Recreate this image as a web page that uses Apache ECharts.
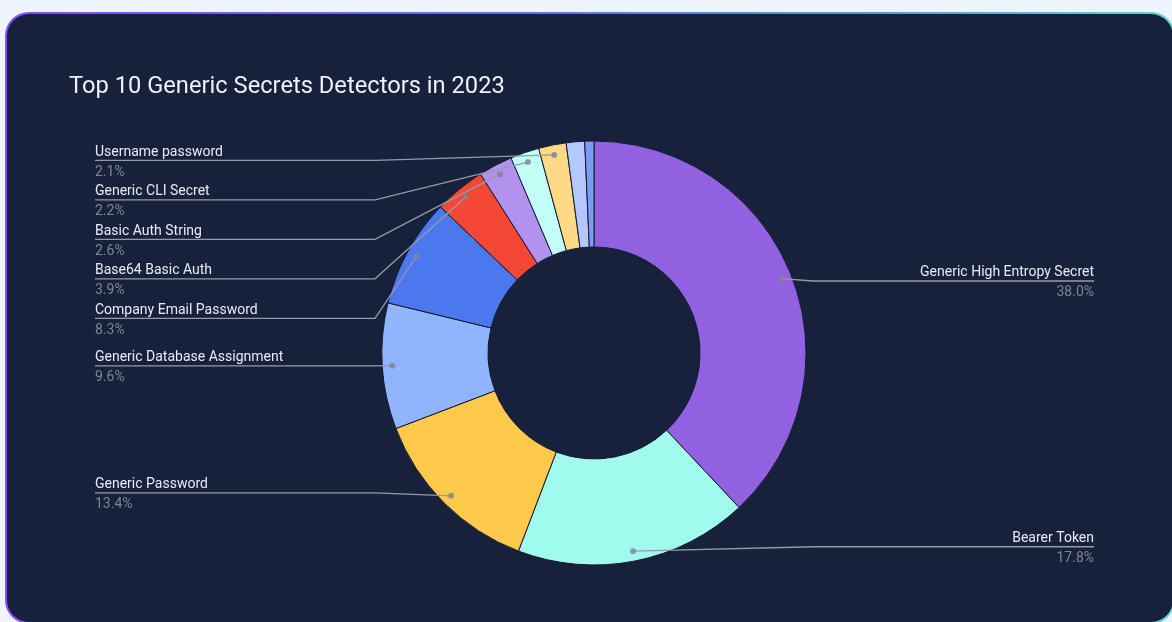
<!DOCTYPE html>
<html>
<head>
<meta charset="utf-8">
<title>Top 10 Generic Secrets Detectors in 2023</title>
<script src="https://cdn.jsdelivr.net/npm/echarts@6/dist/echarts.min.js"></script>
<style>
  html, body { margin: 0; padding: 0; width: 1172px; height: 622px; overflow: hidden; background: #eef5fe; }
  #card {
    position: absolute; left: 5px; top: 12px; width: 1166px; height: 608px;
    border: 2px solid transparent; border-radius: 24px;
    background: linear-gradient(#17213b, #17213b) padding-box,
                linear-gradient(90deg, #8a4cff 0%, #5a78ee 45%, #4f9fdc 75%, #5ed8d0 100%) border-box;
  }
  #chart { position: absolute; left: 0; top: 0; width: 1189px; height: 622px; }
</style>
</head>
<body>
<div id="card"></div>
<div id="chart"></div>
<script>
// Detector names and their share of all generic-secret findings (percent)
const categories = [
  'Generic High Entropy Secret',
  'Bearer Token',
  'Generic Password',
  'Generic Database Assignment',
  'Company Email Password',
  'Base64 Basic Auth',
  'Basic Auth String',
  'Generic CLI Secret',
  'Username password',
  'Generic API Key',
  'Other'
];
const shares = [38.0, 17.8, 13.4, 9.6, 8.3, 3.9, 2.6, 2.2, 2.1, 1.4, 0.7];
const sliceColors = [
  '#9261e1', '#a0fbee', '#ffc94b', '#91b4fe', '#4b78ee', '#f44735',
  '#b391ef', '#c2fff6', '#ffd986', '#b4c8fb', '#7b9bf2'
];
const labelTitle = 'Top 10 Generic Secrets Detectors in 2023';

// Slices below this share get no label
const LABEL_MIN = 2.0;

// Pie geometry (pixels)
const CX = 594, CY = 353, R_OUT = 212, R_IN = 106;
const DOT_R = 202;      // radius where the leader lines start
const BEND = 219;       // horizontal distance from centre where lines turn flat
const LABEL_DY = 3;     // small downward nudge of every label block

const total = shares.reduce((a, b) => a + b, 0);

// Mid-point of each labelled slice on the angular scale, for the leader dots
const dotData = [];
let acc = 0;
shares.forEach((v, i) => {
  if (v >= LABEL_MIN) dotData.push([DOT_R / R_OUT, acc + v / 2]);
  acc += v;
});

const pieBase = {
  type: 'pie',
  center: [CX, CY],
  radius: [R_IN, R_OUT],
  startAngle: 90,
  clockwise: true,
  silent: true,
  emphasis: { disabled: true }
};

const chart = echarts.init(document.getElementById('chart'), null, { renderer: 'canvas' });

chart.setOption({
  backgroundColor: 'transparent',
  animation: false,
  textStyle: { fontFamily: 'Roboto' },
  title: {
    text: labelTitle,
    left: 69, top: 75, padding: 0,
    textStyle: { color: '#eef1f7', fontSize: 23.7, fontWeight: 'normal', fontFamily: 'Roboto' }
  },
  polar: { center: [CX, CY], radius: R_OUT },
  angleAxis: { type: 'value', min: 0, max: total, startAngle: 90, clockwise: true, show: false },
  radiusAxis: { type: 'value', min: 0, max: 1, show: false },
  series: [
    // coloured donut slices
    Object.assign({}, pieBase, {
      z: 2,
      itemStyle: { borderColor: '#141b2e', borderWidth: 1 },
      label: { show: false },
      labelLine: { show: false },
      data: categories.map((name, i) => ({
        name: name,
        value: shares[i],
        itemStyle: { color: sliceColors[i] }
      }))
    }),
    // transparent twin that carries labels and leader lines above the slices
    Object.assign({}, pieBase, {
      z: 3,
      avoidLabelOverlap: true,
      itemStyle: { color: 'rgba(0,0,0,0)', borderWidth: 0 },
      label: {
        position: 'outer',
        alignTo: 'edge',
        edgeDistance: 95,
        minMargin: 5.5,
        formatter: p => '{name|' + p.name + '}\n{pct|' + p.value.toFixed(1) + '%}',
        rich: {
          name: { color: '#e8ecf4', fontSize: 14, lineHeight: 19, fontFamily: 'Roboto' },
          pct: { color: '#7e8595', fontSize: 14, lineHeight: 21, fontFamily: 'Roboto' }
        }
      },
      labelLine: {
        show: true, length: -15, length2: 0,
        lineStyle: { color: '#959ba5', width: 1.3 }
      },
      labelLayout: function (params) {
        const pts = params.labelLinePoints;
        if (!pts) return {};
        const rect = params.labelRect;
        const isLeft = rect.x + rect.width / 2 < CX;
        // the rule sits in the gap between the name and the percentage
        const y = rect.y + rect.height / 2 + LABEL_DY - 2;
        const k = DOT_R / R_OUT;
        const p0 = [CX + (pts[0][0] - CX) * k, CY + (pts[0][1] - CY) * k];
        const p1 = [isLeft ? CX - BEND : CX + BEND, y];
        const p2 = [isLeft ? rect.x : rect.x + rect.width, y];
        return { dy: LABEL_DY, labelLinePoints: [p0, p1, p2] };
      },
      data: categories.map((name, i) => ({
        name: name,
        value: shares[i],
        label: { show: shares[i] >= LABEL_MIN },
        labelLine: { show: shares[i] >= LABEL_MIN }
      }))
    }),
    // leader-line start dots
    {
      type: 'scatter',
      coordinateSystem: 'polar',
      symbol: 'circle',
      symbolSize: 6,
      z: 5,
      silent: true,
      itemStyle: { color: '#80868f' },
      data: dotData
    }
  ]
});
</script>
</body>
</html>
